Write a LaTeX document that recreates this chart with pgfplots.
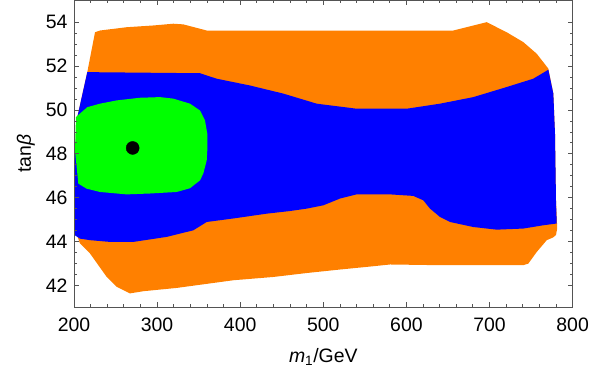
\documentclass[border=0pt]{standalone}
\usepackage{fontspec}
\setmainfont{Liberation Sans}
\usepackage{pgfplots}
\pgfplotsset{compat=1.18}
\usetikzlibrary{calc}
\definecolor{mOrange}{rgb}{1,0.5,0}
\definecolor{mBlue}{rgb}{0,0,1}
\definecolor{mGreen}{rgb}{0,1,0}
\definecolor{frameGray}{rgb}{0.33,0.33,0.33}
\begin{document}
\begin{tikzpicture}
\begin{axis}[
  scale only axis,
  width=498.6bp, height=306.7bp,
  xmin=200, xmax=800, ymin=41, ymax=55,
  xtick={200,300,...,800},
  ytick={42,44,...,54},
  minor x tick num=4,
  minor y tick num=3,
  major tick length=5bp,
  minor tick length=3bp,
  tick align=inside,
  axis line style={frameGray, line width=0.9bp},
  every tick/.style={frameGray, line width=0.8bp},
  /pgf/number format/assume math mode=true,
  /pgf/number format/1000 sep={},
  tick label style={font=\fontsize{19.5}{23}\selectfont, text=black},
  label style={font=\fontsize{19.5}{23}\selectfont},
  xlabel={\textit{m}\textsubscript{1}/GeV},
  ylabel={tan\textit{β}},
  xticklabel style={yshift=-7bp},
  yticklabel style={xshift=-3bp},
  xlabel style={yshift=-10bp},
  ylabel style={yshift=4bp},
  axis on top,
]
% orange (outer region)
\addplot[fill=mOrange, draw=none] coordinates {
(200,44.42) (200,47.11) (204,49.68) (216,51.73) (225.3,53.55) (231.3,53.63)
(263.4,53.78) (295.4,53.86) (319.5,53.94) (331.5,53.91) (359.7,53.63)
(656.4,53.63) (696.6,54.01) (720.7,53.55) (740.7,53.10) (756.8,52.57)
(770.8,51.89) (776.8,50.75) (778.8,48.92) (780,45.88) (781.5,44.6)
(780,44.3) (776.8,44.19) (768.9,44.06) (756.8,43.52) (746.7,42.99)
(740.7,42.92) (636.5,42.92) (580.3,42.95) (560.2,42.87) (520.1,42.72)
(480,42.56) (439.8,42.38) (391.7,42.23) (323.6,41.88) (283.4,41.73)
(267.4,41.63) (251.4,41.93) (239.4,42.38) (219.3,43.45) (207.2,43.91)
(202,44.45)
} -- cycle;
% blue region
\addplot[fill=mBlue, draw=none] coordinates {
(200,44.38) (200,47.11) (204,49.68) (216,51.73) (351.6,51.68) (371.7,51.43)
(411.8,51.12) (451.9,50.75) (492.1,50.29) (540.2,50.06) (600.4,50.06)
(640.4,50.29) (680.5,50.59) (720.7,51.05) (752.7,51.43) (770.8,51.84)
(776.8,50.75) (778.8,48.92) (780,45.88) (780.9,44.82)
(764.8,44.74) (740.7,44.59) (708.7,44.54) (680.5,44.66) (652.5,44.89)
(640.4,45.12) (628.4,45.50) (620.3,45.88) (608.3,46.08) (580.3,46.15)
(540.2,46.15) (520.1,45.96) (500,45.65) (480,45.50) (459.9,45.39)
(431.9,45.27) (391.7,45.05) (359.7,44.89) (343.6,44.51) (311.6,44.21)
(271.4,43.98) (243.3,43.98) (219.3,44.06) (207.2,44.13) (201.2,44.28)
} -- cycle;
% green region
\addplot[fill=mGreen, draw=none] coordinates {
(202.4,49.68) (216,50.13) (231.3,50.29) (251.4,50.44) (279.4,50.56)
(303.5,50.59) (319.5,50.52) (339.6,50.29) (351.6,49.98) (357.6,49.53)
(360.4,48.92) (360.4,48.16) (359.7,47.70) (355.6,47.10) (351.6,46.79)
(339.6,46.43) (323.6,46.26) (291.5,46.19) (263.4,46.15) (231.3,46.26)
(215.3,46.41) (205.2,46.64) (203.2,47.40) (201.2,48.16)
} -- cycle;
% benchmark point
\addplot[only marks, mark=*, mark size=6.5bp, black] coordinates {(270.6,48.27)};
\end{axis}
\pgfresetboundingbox
\path[use as bounding box] ($(current axis.south west)+(-74bp,-74bp)$) rectangle ($(current axis.north east)+(16.4bp,0.5bp)$);
\end{tikzpicture}
\end{document}
